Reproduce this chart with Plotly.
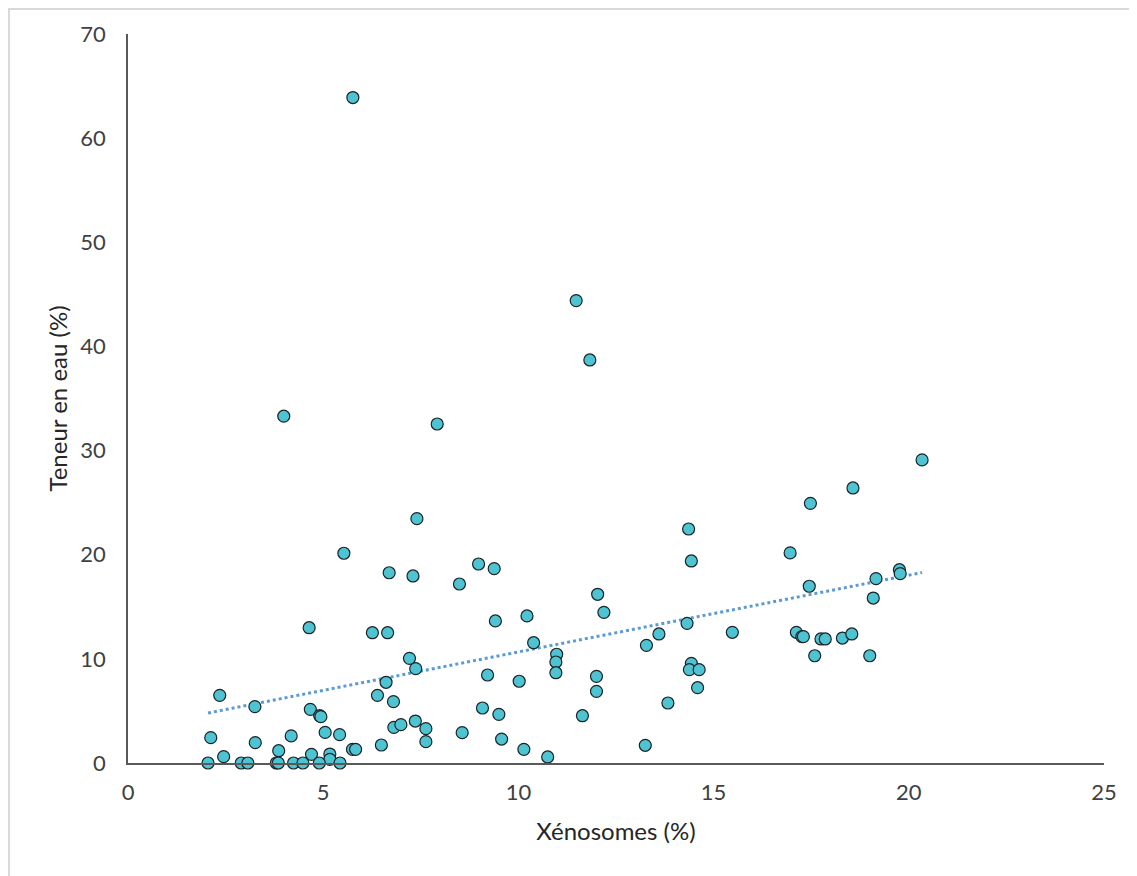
import numpy as np
import plotly.graph_objects as go

xenosomes = [
    5.76, 11.48, 11.83, 3.99, 7.92, 7.40, 5.53, 14.36, 14.43,
    20.34, 18.57, 17.48, 16.96, 17.45, 19.16, 19.09, 19.76, 19.78,
    17.12, 17.26, 17.30, 17.75, 17.86, 18.30, 18.54, 17.59, 19.00,
    8.98, 9.38, 8.49, 12.03, 12.19, 9.41, 10.22, 10.39, 10.98, 10.96, 10.96,
    9.21, 10.02, 12.00, 12.00, 13.28, 13.60, 14.32, 15.48, 14.43, 14.38, 14.63,
    14.59, 13.83, 9.08, 9.50, 11.64, 8.56, 9.57, 10.14, 10.75, 13.25,
    6.69, 7.30, 4.64, 6.26, 6.65, 7.21, 7.37, 6.61, 2.35, 6.39, 6.80,
    3.25, 4.67, 4.91, 4.94, 7.36, 2.12, 5.05, 5.42, 4.18, 6.81, 6.99,
    7.63, 7.63, 3.26, 6.49, 5.75, 5.83, 3.86, 2.45, 4.70, 5.17, 5.17,
    2.05, 2.90, 3.07, 3.80, 3.85, 4.24, 4.48, 4.90, 5.43,
]
teneur_eau = [
    63.9, 44.4, 38.7, 33.3, 32.55, 23.46, 20.14, 22.47, 19.4,
    29.1, 26.41, 24.93, 20.17, 16.97, 17.7, 15.84, 18.56, 18.18,
    12.55, 12.13, 12.13, 11.91, 11.91, 12.0, 12.39, 10.3, 10.3,
    19.11, 18.66, 17.19, 16.2, 14.47, 13.64, 14.12, 11.55, 10.44, 9.70, 8.67,
    8.45, 7.85, 8.32, 6.88, 11.30, 12.39, 13.41, 12.55, 9.57, 8.96, 8.96,
    7.23, 5.76, 5.28, 4.67, 4.54, 2.91, 2.30, 1.31, 0.58, 1.70,
    18.27, 17.96, 12.99, 12.51, 12.51, 10.05, 9.06, 7.75, 6.5, 6.5, 5.89,
    5.41, 5.15, 4.54, 4.45, 4.03, 2.43, 2.94, 2.72, 2.6, 3.42, 3.68,
    3.30, 2.05, 1.95, 1.73, 1.31, 1.31, 1.18, 0.61, 0.83, 0.86, 0.35,
    0, 0, 0, 0, 0, 0, 0, 0, 0,
]
x_ticks = [0, 5, 10, 15, 20, 25]
y_ticks = [0, 10, 20, 30, 40, 50, 60, 70]

x = np.array(xenosomes)
y = np.array(teneur_eau)
slope, intercept = np.polyfit(x, y, 1)
trend_x = np.array([x.min(), x.max()])
trend_y = slope * trend_x + intercept

font_family = "Lato, Open Sans, sans-serif"

fig = go.Figure()
fig.add_trace(go.Scatter(
    x=trend_x, y=trend_y, mode="lines",
    line=dict(color="#5B9BD5", width=3, dash="dot"),
    showlegend=False, hoverinfo="skip",
))
fig.add_trace(go.Scatter(
    x=xenosomes, y=teneur_eau, mode="markers", cliponaxis=False,
    marker=dict(size=12, color="#4EC3D1", line=dict(color="#1A2328", width=1.2)),
    showlegend=False,
))

fig.update_layout(
    width=1129, height=868,
    margin=dict(l=120, r=33, t=26, b=113),
    paper_bgcolor="white", plot_bgcolor="white",
    font=dict(family=font_family, color="#404040", size=22),
    xaxis=dict(
        range=[0, 25], tickvals=x_ticks, showgrid=False, zeroline=False,
        showline=True, linecolor="#595959", linewidth=1.5, automargin=False,
        ticks="outside", ticklen=9, tickcolor="rgba(0,0,0,0)",
        tickfont=dict(size=22, color="#404040"),
        title=dict(text="Xénosomes (%)", font=dict(size=24, color="#262626"), standoff=19),
    ),
    yaxis=dict(
        range=[0, 70], tickvals=y_ticks, showgrid=False, zeroline=False,
        showline=True, linecolor="#595959", linewidth=1.5, automargin=False,
        ticks="outside", ticklen=16, tickcolor="rgba(0,0,0,0)",
        tickfont=dict(size=22, color="#404040"),
        title=dict(text="Teneur en eau (%)", font=dict(size=24, color="#262626"), standoff=6),
    ),
    shapes=[dict(
        type="rect", xref="paper", yref="paper",
        x0=-0.1219, x1=1.06, y0=-0.2, y1=1.0343,
        line=dict(color="#D9D9D9", width=2), fillcolor="rgba(0,0,0,0)", layer="below",
    )],
)

fig.write_html("out.html")
